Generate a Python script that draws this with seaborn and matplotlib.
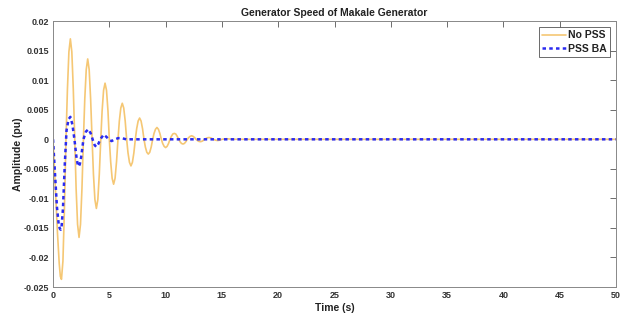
"""
Generator speed deviation of the Makale generator, with and without PSS.
"""

import matplotlib
matplotlib.use('Agg')
import matplotlib.pyplot as plt
import matplotlib.ticker as mticker
import pandas as pd
import seaborn as sns

# No PSS response (one row per half swing)
time_no_pss = [0.0, 0.2, 0.4, 0.55, 0.65, 0.75, 0.88, 1.01, 1.15,
               1.28, 1.41, 1.54, 1.67, 1.80, 1.93,
               2.05, 2.18, 2.31, 2.44, 2.57, 2.70,
               2.82, 2.95, 3.08, 3.21, 3.34, 3.47,
               3.59, 3.72, 3.85, 3.98, 4.11, 4.24,
               4.36, 4.49, 4.62, 4.75, 4.88, 5.00,
               5.12, 5.25, 5.38, 5.51, 5.64, 5.77,
               5.89, 6.02, 6.15, 6.28, 6.41, 6.54,
               6.66, 6.79, 6.92, 7.05, 7.18, 7.31,
               7.43, 7.56, 7.69, 7.82, 7.95, 8.08,
               8.20, 8.33, 8.46, 8.59, 8.72, 8.85,
               8.97, 9.10, 9.23, 9.36, 9.49, 9.62,
               9.74, 9.87, 10.0, 10.13, 10.26, 10.39,
               10.51, 10.64, 10.77, 10.90, 11.03, 11.16,
               11.28, 11.41, 11.54, 11.67, 11.80, 11.93,
               12.05, 12.18, 12.31, 12.44, 12.57, 12.70,
               12.82, 12.95, 13.08, 13.21, 13.34, 13.47,
               13.59, 13.72, 13.85, 13.98, 14.11, 14.24,
               14.36, 14.49, 14.62, 14.75, 14.88, 15.01,
               15.4, 16.0, 50.0]
speed_no_pss = [0.0, -0.0080, -0.0160, -0.0210, -0.0232, -0.0237, -0.0206, -0.0119, 0.0,
                0.0085, 0.0148, 0.0170, 0.0148, 0.0085, 0.0,
                -0.0083, -0.0144, -0.0166, -0.0144, -0.0083, 0.0,
                0.0068, 0.0118, 0.0136, 0.0118, 0.0068, 0.0,
                -0.0059, -0.0102, -0.0117, -0.0102, -0.0059, 0.0,
                0.0048, 0.0083, 0.0095, 0.0083, 0.0048, 0.0,
                -0.0038, -0.0066, -0.0076, -0.0066, -0.0038, 0.0,
                0.0031, 0.0053, 0.0061, 0.0053, 0.0031, 0.0,
                -0.0023, -0.0039, -0.0045, -0.0039, -0.0023, 0.0,
                0.0018, 0.0031, 0.0036, 0.0031, 0.0018, 0.0,
                -0.0013, -0.0022, -0.0025, -0.0022, -0.0013, 0.0,
                0.0010, 0.0017, 0.0020, 0.0017, 0.0010, 0.0,
                -0.0007, -0.0012, -0.0014, -0.0012, -0.0007, 0.0,
                0.0005, 0.0009, 0.0010, 0.0009, 0.0005, 0.0,
                -0.0004, -0.0007, -0.0008, -0.0007, -0.0004, 0.0,
                0.0003, 0.0005, 0.0006, 0.0005, 0.0003, 0.0,
                -0.0002, -0.00035, -0.0004, -0.00035, -0.0002, 0.0,
                0.00015, 0.00026, 0.0003, 0.00026, 0.00015, 0.0,
                -0.0001, -0.00017, -0.0002, -0.00017, -0.0001, 0.0,
                0.0001, 0.0, 0.0]

# PSS BA response
time_pss = [0.0, 0.15, 0.35, 0.5, 0.6, 0.68, 0.76, 0.88, 1.05, 1.2,
            1.38, 1.54, 1.72, 1.9, 2.1, 2.2, 2.28, 2.38, 2.5, 2.7,
            2.92, 3.14, 3.35, 3.55, 3.7, 3.85, 4.02, 4.2, 4.5, 4.75,
            4.95, 5.2, 5.5, 5.8, 6.1, 6.5, 7.0, 50.0]
speed_pss = [0.0, -0.0050, -0.0115, -0.0143, -0.0151, -0.0153, -0.0148, -0.0118, -0.0040, 0.0015,
             0.0034, 0.0038, 0.0025, 0.0, -0.0033, -0.0043, -0.0046, -0.0042, -0.0030, 0.0,
             0.0013, 0.0017, 0.0010, -0.0002, -0.0010, -0.0013, -0.0008, 0.0, 0.0008, 0.0004,
             0.0, -0.0003, 0.0, 0.0002, 0.0002, 0.0, 0.0, 0.0]

x_ticks = [0, 5, 10, 15, 20, 25, 30, 35, 40, 45, 50]
y_ticks = [-0.025, -0.02, -0.015, -0.01, -0.005, 0, 0.005, 0.01, 0.015, 0.02]


def main():
    sns.set_theme(style='white')
    plt.rcParams['font.family'] = ['Liberation Sans', 'DejaVu Sans']
    plt.rcParams['font.weight'] = 'bold'

    df_no = pd.DataFrame({'Time': time_no_pss, 'Speed': speed_no_pss})
    df_pss = pd.DataFrame({'Time': time_pss, 'Speed': speed_pss})

    fig = plt.figure(figsize=(6.29, 3.2), dpi=100)
    ax = fig.add_axes([0.0843, 0.103, 0.8950, 0.831])

    sns.lineplot(data=df_no, x='Time', y='Speed', ax=ax, color='#f5c774',
                 linewidth=1.2, label='No PSS', sort=False)
    sns.lineplot(data=df_pss, x='Time', y='Speed', ax=ax, color='#2b2bf0',
                 linewidth=1.8, linestyle=(0, (1.4, 1.3)), label='PSS BA',
                 sort=False)

    ax.set_xlim(0, 50)
    ax.set_ylim(-0.025, 0.02)
    ax.set_xticks(x_ticks)
    ax.set_yticks(y_ticks)
    ax.yaxis.set_major_formatter(mticker.FuncFormatter(lambda v, p: f'{v:g}'))

    ax.tick_params(direction='in', length=4, width=0.6, colors='#555555',
                   labelcolor='#333333', labelsize=6.5, top=True, right=True,
                   pad=3)
    for lab in ax.get_xticklabels() + ax.get_yticklabels():
        lab.set_fontweight('bold')
    for spine in ax.spines.values():
        spine.set_color('#888888')
        spine.set_linewidth(0.7)

    ax.set_title('Generator Speed of Makale Generator', fontsize=7.5,
                 fontweight='bold', color='#222222', pad=4)
    ax.set_xlabel('Time (s)', fontsize=7.5, fontweight='bold',
                  color='#222222', labelpad=2)
    ax.set_ylabel('Amplitude (pu)', fontsize=7.5, fontweight='bold',
                  color='#222222', labelpad=0.5)

    leg = ax.legend(loc='upper right', fontsize=7.5, frameon=True,
                    fancybox=False, edgecolor='#444444', handlelength=2.3,
                    borderaxespad=0.55, handletextpad=0.15, borderpad=0.35,
                    labelspacing=0.3)
    leg.get_frame().set_linewidth(0.7)
    for txt in leg.get_texts():
        txt.set_fontweight('bold')
        txt.set_color('#222222')

    fig.savefig('out.png', dpi=100)
    plt.close(fig)


if __name__ == '__main__':
    main()
